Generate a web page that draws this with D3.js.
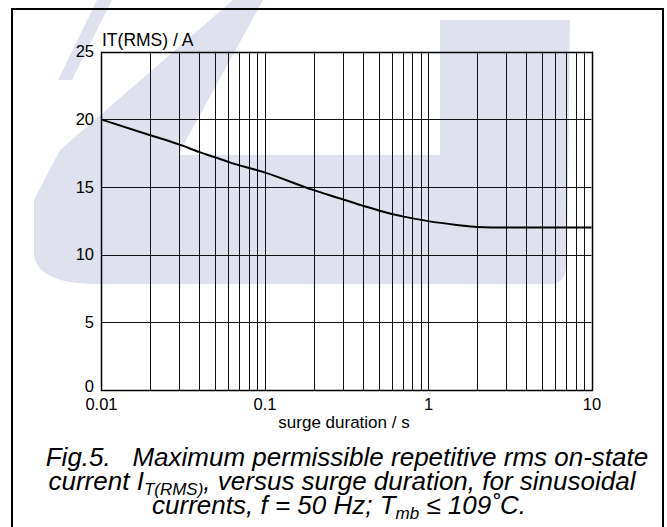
<!DOCTYPE html>
<html><head><meta charset="utf-8">
<script src="https://cdn.jsdelivr.net/npm/d3@7"></script>
<style>
body{margin:0;background:#fff}
svg{display:block}
text{font-family:"Liberation Sans",Arial,sans-serif;fill:#000}
</style>
</head><body>
<svg id="c" width="667" height="527"></svg>
<script>
// ---- data ----
const durations = [0.01, 0.02, 0.03, 0.04, 0.05, 0.06, 0.1, 0.2, 0.3, 0.4, 0.5, 0.6, 0.7, 1, 1.5, 2, 3, 5, 10];
const currents  = [20, 18.83, 18.15, 17.58, 17.19, 16.86, 16.08, 14.77, 14.1, 13.61, 13.27, 13.0, 12.83, 12.48, 12.2, 12.05, 12.0, 12.0, 12.0];
const xTicks = [0.01, 0.1, 1, 10];
const xTickLabels = ["0.01", "0.1", "1", "10"];
const yTicks = [0, 5, 10, 15, 20, 25];
const yTickLabels = ["0", "5", "10", "15", "20", "25"];
const yTitle = "IT(RMS) / A";
const xTitle = "surge duration / s";

const svg = d3.select("#c");
const L = 101, R = 591.5, T = 51.7, B = 390;
const x = d3.scaleLog().domain([0.01, 10]).range([L, R]);
const y = d3.scaleLinear().domain([0, 25]).range([B, T]);
const px = v => Math.round(v) + 0.5;

// faint background watermark (as in the scanned reference)
const wm = svg.append("g").attr("fill", "#dfe2ee");
wm.append("path").attr("d",
  "M263,0 L233,0 L60,150 L34,200 L34,255 Q38,284 98,284 L552,284 Q566,284 567,260 L570,20 L440,20 L440,155 L178,155 Z");
wm.append("path").attr("d", "M97,0 L112,0 L72,80 L58,80 Z");

// outer frame
svg.append("rect").attr("x", 12).attr("y", 9).attr("width", 651).attr("height", 530)
  .attr("fill", "none").attr("stroke", "#000").attr("stroke-width", 2);

// grid
const g = svg.append("g");
const minor = [];
[0.01, 0.1, 1].forEach(d => { for (let k = 1; k <= 9; k++) minor.push(d * k); });
minor.push(10);
g.selectAll("line.v").data(minor).join("line").attr("class", "v")
  .attr("x1", d => px(x(d))).attr("x2", d => px(x(d)))
  .attr("y1", y(25)).attr("y2", y(0))
  .attr("stroke", "#111").attr("stroke-width", 1);
g.selectAll("line.h").data(yTicks).join("line").attr("class", "h")
  .attr("y1", d => px(y(d))).attr("y2", d => px(y(d)))
  .attr("x1", x(0.01)).attr("x2", x(10))
  .attr("stroke", "#111").attr("stroke-width", 1);
// plot border
svg.append("rect").attr("x", px(x(0.01))).attr("y", px(y(25)))
  .attr("width", Math.round(x(10)) - Math.round(x(0.01))).attr("height", Math.round(y(0)) - Math.round(y(25)))
  .attr("fill", "none").attr("stroke", "#000").attr("stroke-width", 1.5);

// axes labels
const yAxis = d3.axisLeft(y).tickValues(yTicks).tickFormat((d, i) => yTickLabels[i]).tickSize(0).tickPadding(7);
const ya = svg.append("g").attr("transform", `translate(${x(0.01)},0)`).call(yAxis);
ya.select(".domain").remove();
ya.selectAll("text").style("font-size", "16.5px").style("font-family", '"Liberation Sans",Arial,sans-serif').attr("fill", "#000");
ya.selectAll(".tick").filter(d => d === 0).select("text").attr("dy", "0.1em");

const xAxis = d3.axisBottom(x).tickValues(xTicks).tickFormat((d, i) => xTickLabels[i]).tickSize(0).tickPadding(8);
const xa = svg.append("g").attr("transform", `translate(0,${y(0)})`).call(xAxis);
xa.select(".domain").remove();
xa.selectAll("text").style("font-size", "16.5px").style("font-family", '"Liberation Sans",Arial,sans-serif').attr("fill", "#000");

svg.append("text").attr("x", 102).attr("y", 46).style("font-size", "17.5px").text(yTitle);
svg.append("text").attr("x", 344).attr("y", 428).attr("text-anchor", "middle").style("font-size", "17px").text(xTitle);

// curve
const line = d3.line().x(d => x(d[0])).y(d => y(d[1])).curve(d3.curveMonotoneX);
svg.append("path").datum(durations.map((d, i) => [d, currents[i]]))
  .attr("d", line).attr("fill", "none").attr("stroke", "#000").attr("stroke-width", 2);

// caption
const cap = svg.append("g").style("font-style", "italic").style("font-size", "26px");
const t1 = cap.append("text").attr("x", 347).attr("y", 466).attr("text-anchor", "middle").attr("xml:space", "preserve")
  .text("Fig.5.   Maximum permissible repetitive rms on-state");
const t2 = cap.append("text").attr("x", 342).attr("y", 490).attr("text-anchor", "middle");
t2.append("tspan").text("current I");
t2.append("tspan").attr("dy", 5).style("font-size", "17px").text("T(RMS)");
t2.append("tspan").attr("dy", -5).text(", versus surge duration, for sinusoidal");
const t3 = cap.append("text").attr("x", 339).attr("y", 514).attr("text-anchor", "middle");
t3.append("tspan").text("currents, f = 50 Hz; T");
t3.append("tspan").attr("dy", 5).style("font-size", "17px").text("mb");
t3.append("tspan").attr("dy", -5).text(" \u2264 109\u02DAC.");
</script>
</body></html>
